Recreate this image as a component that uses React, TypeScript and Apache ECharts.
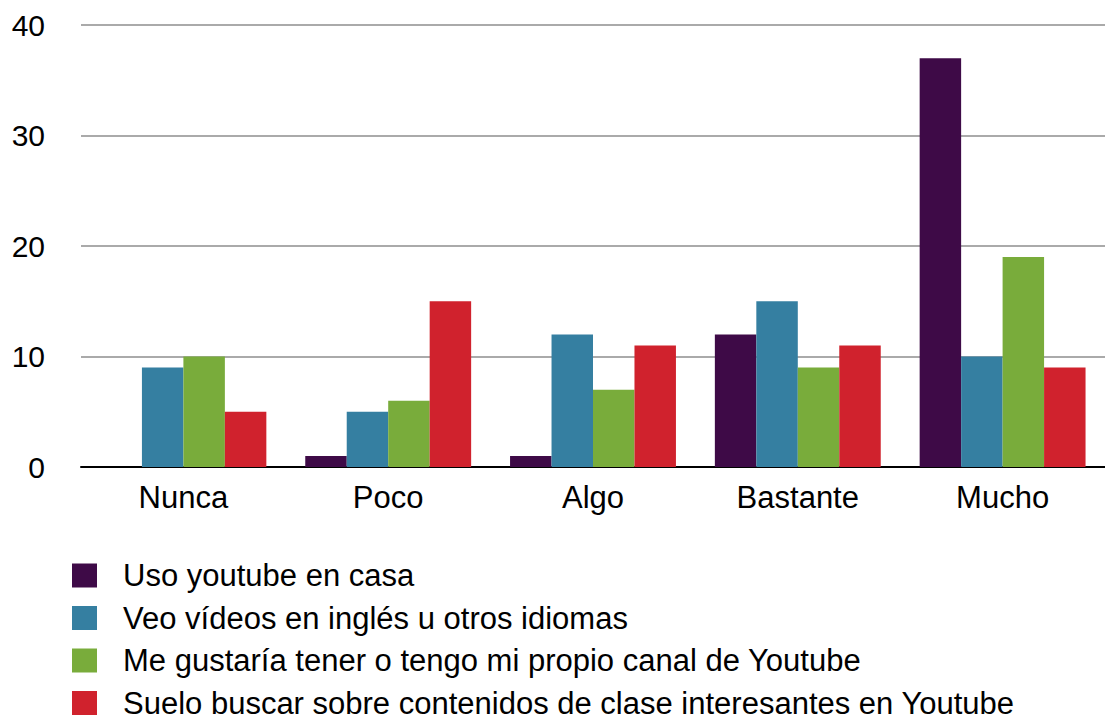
import React, { useEffect, useRef } from "react";
import * as echarts from "echarts";

const categories = ["Nunca", "Poco", "Algo", "Bastante", "Mucho"];
const seriesNames = [
  "Uso youtube en casa",
  "Veo vídeos en inglés u otros idiomas",
  "Me gustaría tener o tengo mi propio canal de Youtube",
  "Suelo buscar sobre contenidos de clase interesantes en Youtube",
];
const usoCasa = [0, 1, 1, 12, 37];
const veoIngles = [9, 5, 12, 15, 10];
const canal = [10, 6, 7, 9, 19];
const buscar = [5, 15, 11, 11, 9];
const colors = ["#3e0a47", "#357fa1", "#79ac3b", "#d0222d"];

export default function App() {
  const ref = useRef<HTMLDivElement>(null);
  useEffect(() => {
    if (!ref.current) return;
    const chart = echarts.init(ref.current, null, { renderer: "svg" });
    const values = [usoCasa, veoIngles, canal, buscar];
    const font = "'Liberation Sans', Arial, Helvetica, sans-serif";
    chart.setOption({
      animation: false,
      textStyle: { fontFamily: font },
      color: colors,
      grid: { left: 81, right: 0, top: 25, bottom: 253 },
      legend: {
        orient: "vertical",
        left: 72,
        top: 560,
        height: 300,
        padding: 0,
        itemWidth: 25,
        itemHeight: 24,
        itemGap: 11.5,
        icon: "rect",
        textStyle: { fontSize: 31, color: "#000", fontFamily: font, padding: [0, 0, 0, 21] },
        data: seriesNames,
      },
      xAxis: {
        type: "category",
        data: categories,
        axisLine: { lineStyle: { color: "#000", width: 2 } },
        axisTick: { show: false },
        axisLabel: { fontSize: 31, color: "#000", margin: 15, fontFamily: font },
      },
      yAxis: {
        type: "value",
        min: 0,
        max: 40,
        interval: 10,
        axisLine: { show: false },
        axisTick: { show: false },
        splitLine: { lineStyle: { color: "#aaaaaa", width: 2 } },
        axisLabel: { fontSize: 30, color: "#000", margin: 36, fontFamily: font },
      },
      series: seriesNames.map((name, i) => ({
        name,
        type: "bar",
        data: values[i],
        barGap: "0%",
        barCategoryGap: "19%",
        itemStyle: { color: colors[i] },
      })),
    });
    return () => chart.dispose();
  }, []);
  return (
    <div
      ref={ref}
      style={{ position: "absolute", left: 0, top: 0, width: 1105, height: 720, background: "#fff" }}
    />
  );
}
